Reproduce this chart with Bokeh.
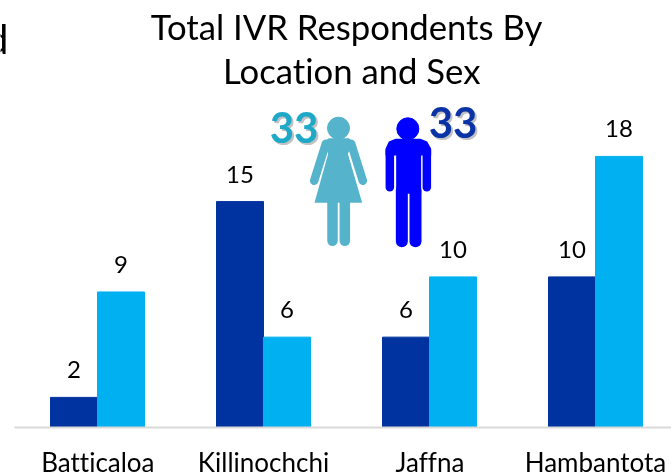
from bokeh.plotting import figure
from bokeh.models import Range1d, FixedTicker, ColumnDataSource
from bokeh.core.properties import value
from bokeh.embed import file_html
from bokeh.resources import INLINE

categories = ["Batticaloa", "Killinochchi", "Jaffna", "Hambantota"]
female_dark = [2, 15, 6, 10]
male_light = [9, 6, 10, 18]
FONT = "Lato"
DARK, LIGHT = "#00339F", "#00B0F0"
ICON_F, ICON_M = "#55B4CB", "#0000FF"
TXT = "#000000"

W, BASE, B = 671, 427, 56
H = BASE + B
CAT_PX, UNIT_PX, X0 = 166.0, 15.06, 97.0
xr = Range1d(-X0 / CAT_PX, (W - X0) / CAT_PX)
yr = Range1d(0, BASE / UNIT_PX)

p = figure(width=W, height=H, x_range=xr, y_range=yr, output_backend="svg",
           toolbar_location=None, min_border_left=0, min_border_right=0,
           min_border_top=0, min_border_bottom=B, outline_line_color=None,
           background_fill_color="white", border_fill_color="white",
           y_axis_location=None,
           styles={"position": "fixed", "left": "0px", "top": "0px",
                   "font-variant-ligatures": "none"})
p.grid.visible = False

xs = list(range(len(categories)))
bw = 47 / CAT_PX
src = ColumnDataSource(dict(
    xa=[x - bw / 2 for x in xs], xb=[x + bw / 2 for x in xs],
    a=female_dark, b=male_light,
    ta=[str(v) for v in female_dark], tb=[str(v) for v in male_light]))
p.vbar(x="xa", top="a", bottom=0, width=bw, color=DARK, source=src)
p.vbar(x="xb", top="b", bottom=0, width=bw, color=LIGHT, source=src)
for xk, yk, tk in (("xa", "a", "ta"), ("xb", "b", "tb")):
    p.text(x=xk, y=yk, text=tk, source=src, text_align="center",
           text_baseline="bottom", y_offset=-19, text_color=TXT,
           text_font=value(FONT), text_font_size="24px")


def dx(px):
    return (px - X0) / CAT_PX


def dy(py):
    return (BASE - py) / UNIT_PX


def zx(z):
    return dx(260 + z / 3)


def zy(z):
    return dy(90 + z / 3)


ax = p.xaxis[0]
ax.ticker = FixedTicker(ticks=xs)
ax.major_label_overrides = {i: c for i, c in enumerate(categories)}
ax.bounds = (dx(14), dx(W))
ax.axis_line_color = "#D9D9D9"
ax.axis_line_width = 2
ax.major_tick_line_color = None
ax.minor_tick_line_color = None
ax.major_label_text_font = FONT
ax.major_label_text_font_size = "26px"
ax.major_label_text_color = TXT
ax.major_label_standoff = 12


def label(px, py, s, size, color=TXT, align="center", style="normal", alpha=1.0, font=FONT):
    p.text(x=[dx(px)], y=[dy(py)], text=[s], text_align=align, text_baseline="alphabetic",
           text_color=color, text_font=value(font), text_font_size=size,
           text_font_style=style, text_alpha=alpha)


label(346, 26, "Total IVR Respondents By", "34.7px")
label(351.5, 70, "Location and Sex", "34.7px")
label(8, 38, "d", "40px", align="right")

for px, py, col in ((293.5, 127, "#1FA9C9"), (452.5, 122, "#0A33A6")):
    label(px + 2, py + 2, "33", "42px", "#777777", style="bold", alpha=0.45)
    label(px, py, "33", "42px", col, style="bold")


def limb(x0, y0, x1, y1, w, color):
    p.line([zx(x0), zx(x1)], [zy(y0), zy(y1)], line_width=w, line_color=color, line_cap="round")


def poly(pts, color):
    p.patch([zx(a) for a, _ in pts], [zy(b) for _, b in pts], color=color, line_width=0)


def head(z_x, z_y, color):
    p.scatter([zx(z_x)], [zy(z_y)], size=22, marker="circle", color=color)


# female pictogram
head(234, 113, ICON_F)
poly([(205, 143), (265, 143), (280, 155), (262, 190), (305, 337), (162, 337), (203, 190), (188, 155)], ICON_F)
limb(196, 160, 161, 271, 8.5, ICON_F)
limb(272, 160, 307, 271, 8.5, ICON_F)
limb(216, 330, 216, 451, 10.5, ICON_F)
limb(253, 330, 253, 451, 10.5, ICON_F)

# male pictogram
head(442, 115, ICON_M)
poly([(375, 175), (385, 153), (405, 145), (480, 145), (500, 153), (512, 175), (512, 195),
      (482, 195), (482, 310), (407, 310), (407, 195), (375, 195)], ICON_M)
limb(388, 180, 388, 290, 8.5, ICON_M)
limb(499, 180, 499, 290, 8.5, ICON_M)
limb(424, 300, 424, 452, 12, ICON_M)
limb(465, 300, 465, 452, 12, ICON_M)

open("out.html", "w").write(file_html(p, INLINE))
